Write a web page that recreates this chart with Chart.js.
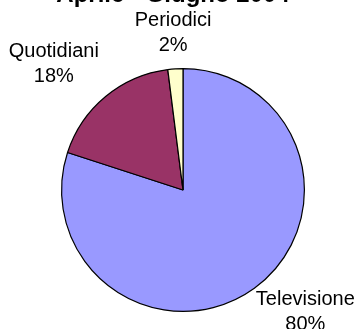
<!DOCTYPE html>
<html>
<head>
<meta charset="utf-8">
<script src="https://cdn.jsdelivr.net/npm/chart.js@4"></script>
<style>
  html, body { margin: 0; padding: 0; background: #fff; overflow: hidden; }
  #wrap { position: relative; width: 355px; height: 329px; }
</style>
</head>
<body>
<div id="wrap"><canvas id="chart" width="355" height="329"></canvas></div>
<script>
// Data
const titleText = "Aprile - Giugno 2004";
const categories = ["Televisione", "Quotidiani", "Periodici"];
const values = [80, 18, 2];
const sliceColors = ["#9999FF", "#993366", "#FFFFCC"];

// Label placement tweaks per slice (distance from centre in radii, x/y nudge)
const labelDist = [1.42, 1.45, 1.3];
const labelNudgeX = [21, -17, 0];
const labelNudgeY = [-17, 10, 0];

const sliceLabels = {
    id: "sliceLabels",
    afterDatasetsDraw(chart) {
        const ctx = chart.ctx;
        const meta = chart.getDatasetMeta(0);
        const total = values.reduce((a, b) => a + b, 0);
        ctx.save();
        ctx.fillStyle = "#000";
        ctx.font = "20px 'Liberation Sans', Arial, sans-serif";
        ctx.textAlign = "center";
        ctx.textBaseline = "middle";
        meta.data.forEach((arc, i) => {
            const mid = (arc.startAngle + arc.endAngle) / 2;
            const r = arc.outerRadius * labelDist[i];
            const x = arc.x + Math.cos(mid) * r + labelNudgeX[i];
            const y = arc.y + Math.sin(mid) * r + labelNudgeY[i];
            ctx.fillText(categories[i], x, y - 12.5);
            ctx.fillText(Math.round(values[i] / total * 100) + "%", x, y + 12.5);
        });
        // title, cut off by the top edge like in the source image
        ctx.font = "bold 24px 'Liberation Sans', Arial, sans-serif";
        ctx.textBaseline = "alphabetic";
        ctx.fillText(titleText, 173, 2);
        ctx.restore();
    }
};

new Chart(document.getElementById("chart"), {
    type: "pie",
    data: {
        labels: categories,
        datasets: [{
            data: values,
            backgroundColor: sliceColors,
            borderColor: "#000",
            borderWidth: 1.2
        }]
    },
    options: {
        responsive: false,
        animation: false,
        layout: { padding: { left: 61, right: 50, top: 68, bottom: 17 } },
        plugins: {
            legend: { display: false },
            tooltip: { enabled: false },
            title: { display: false }
        }
    },
    plugins: [sliceLabels]
});
</script>
</body>
</html>
